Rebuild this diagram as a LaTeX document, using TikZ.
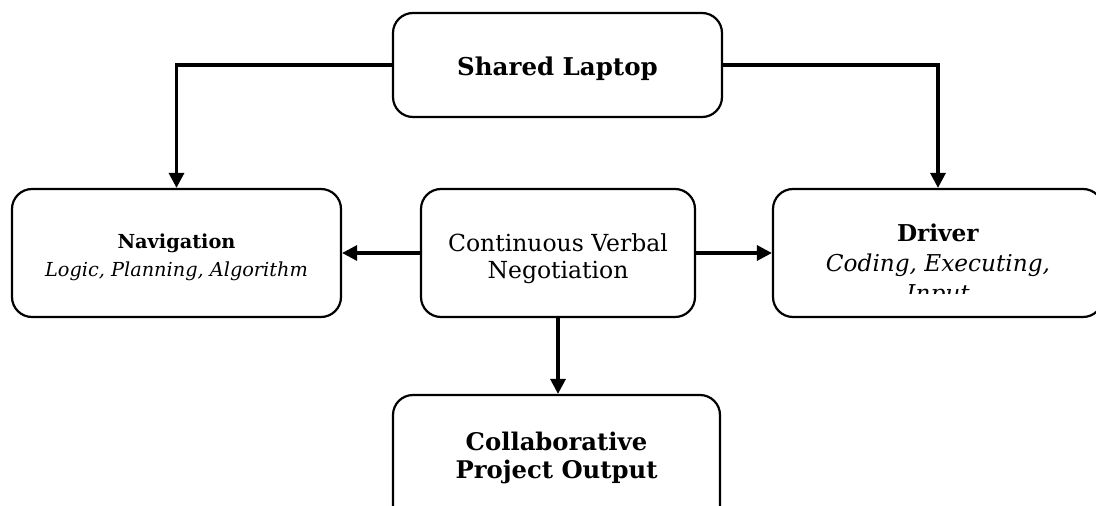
\documentclass[tikz,border=0pt]{standalone}
\usepackage{fontspec}
\setmainfont{DejaVu Serif}
\usetikzlibrary{arrows.meta}
\begin{document}
\begin{tikzpicture}[x=1pt,y=-1pt,
  box/.style={draw=black,line width=2.2pt,rounded corners=20pt,fill=white,inner sep=0pt},
  conn/.style={line width=3.2pt,-{Triangle[length=15pt,width=15pt]}},
  lbl/.style={align=center,inner sep=0pt}]
\useasboundingbox (0,0) rectangle (1096,506);
\clip (0,0) rectangle (1096,506);

% boxes
\node[box,minimum width=329pt,minimum height=104pt] (laptop) at (557.5,65) {};
\node[box,minimum width=329pt,minimum height=128pt] (nav) at (176.5,253) {};
\node[box,minimum width=274pt,minimum height=128pt] (cvn) at (558,253) {};
\node[box,minimum width=330pt,minimum height=128pt] (drv) at (938,253) {};
\node[box,minimum width=327pt,minimum height=150pt] (out) at (556.5,470) {};

% texts
\node[lbl,font=\bfseries\fontsize{24.5}{28}\selectfont] (laptopT) at (557.5,69) {Shared Laptop};
\node[lbl,font=\fontsize{19.3}{28}\selectfont] (navT) at (176.5,257)
  {\textbf{Navigation}\\\itshape Logic, Planning, Algorithm};
\node[lbl,font=\fontsize{23.5}{27}\selectfont] (cvnT) at (558,259)
  {Continuous Verbal\\Negotiation};
\begin{scope}
  \clip (774,190) rectangle (1096,293);
  \node[lbl,font=\fontsize{23.2}{30}\selectfont] (drvT) at (938,265)
    {\textbf{Driver}\\\itshape Coding, Executing,\\\itshape Input};
\end{scope}
\node[lbl,font=\bfseries\fontsize{24.3}{28}\selectfont] (outT) at (556.5,458)
  {Collaborative\\Project Output};

% connectors
\draw[conn] (laptop.west) -| (nav.north);
\draw[conn] (laptop.east) -| (drv.north);
\draw[conn] (cvn.west) -- (nav.east);
\draw[conn] (cvn.east) -- (drv.west);
\draw[conn] (cvn.south) -- (cvn.south |- out.north);
\end{tikzpicture}
\end{document}
